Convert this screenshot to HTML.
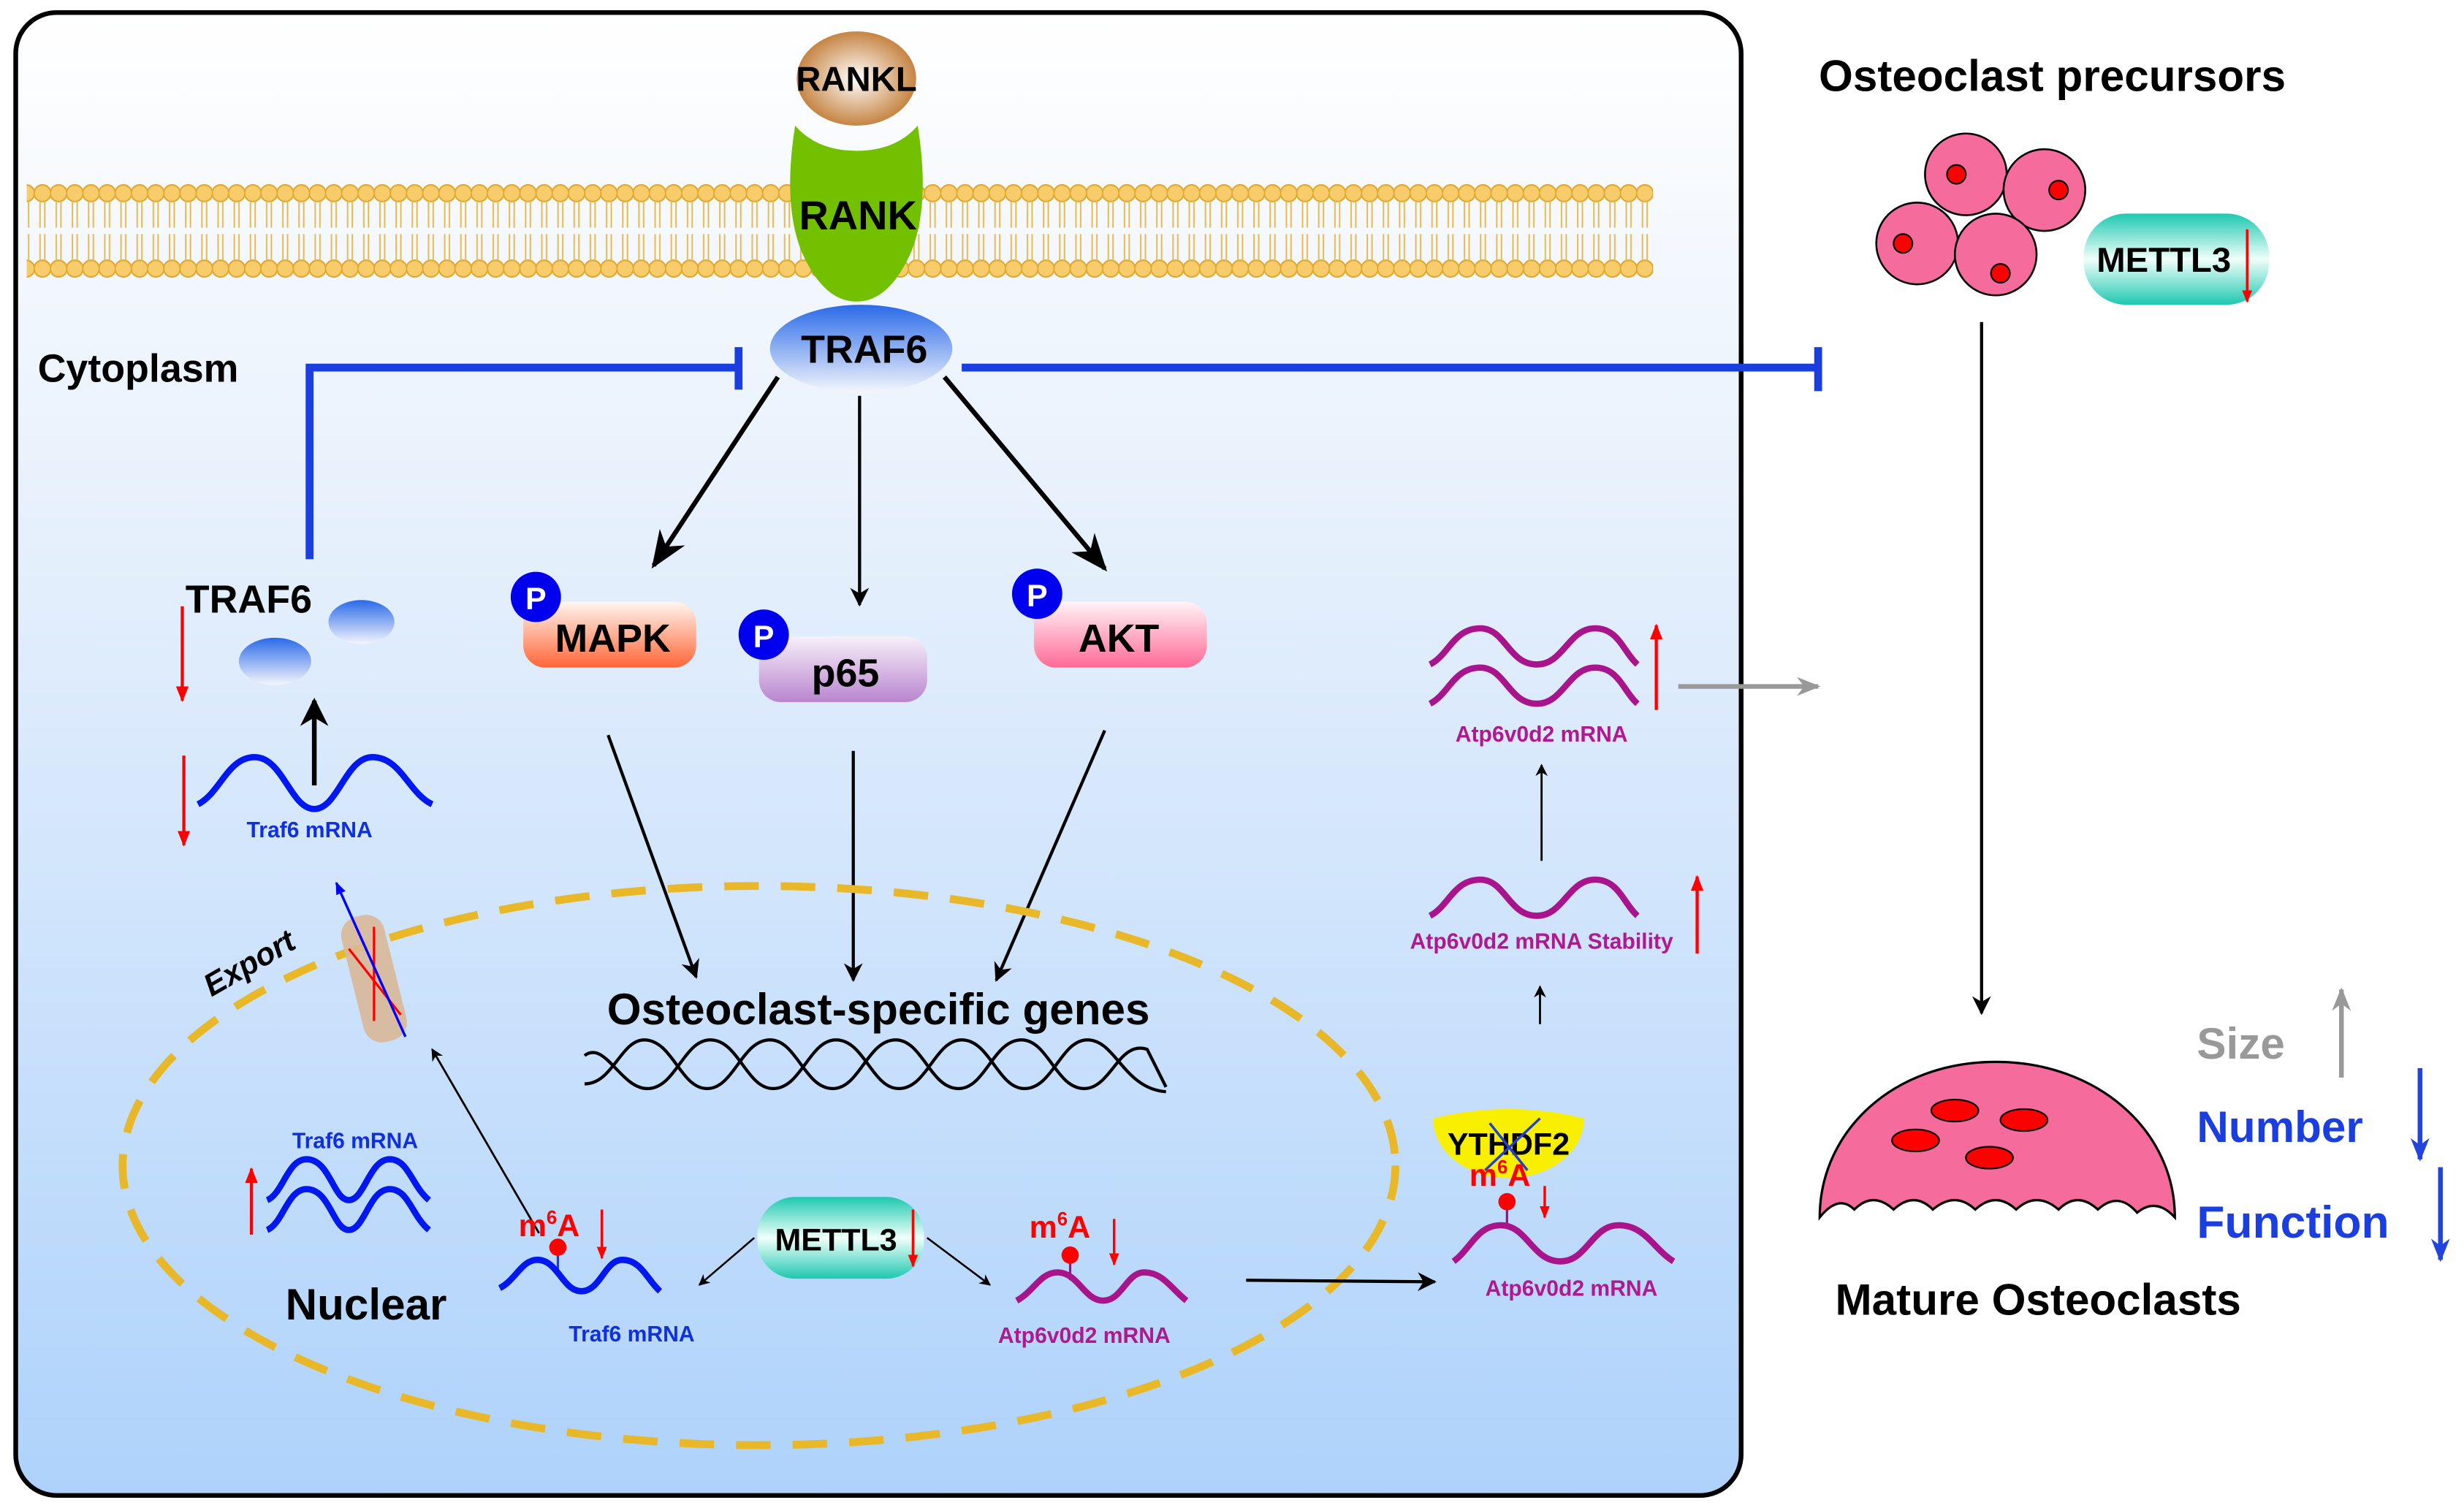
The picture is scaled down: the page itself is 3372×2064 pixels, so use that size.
<!DOCTYPE html>
<html><head><meta charset="utf-8"><style>html,body{margin:0;padding:0;background:#fff}svg{display:block}</style></head>
<body>
<svg width="3372" height="2064" viewBox="0 0 1568 960" preserveAspectRatio="none" xmlns="http://www.w3.org/2000/svg" font-family="Liberation Sans, sans-serif">
<defs>
<linearGradient id="bg" x1="0" y1="0" x2="0" y2="1"><stop offset="0" stop-color="#ffffff"/><stop offset="0.35" stop-color="#e6f0fc"/><stop offset="1" stop-color="#aed2fb"/></linearGradient>
<radialGradient id="rankl" cx="0.5" cy="0.5" r="0.55"><stop offset="0" stop-color="#fff"/><stop offset="1" stop-color="#c07830"/></radialGradient>
<linearGradient id="traf" x1="0" y1="0" x2="0" y2="1"><stop offset="0" stop-color="#2a6ae8"/><stop offset="1" stop-color="#f4f6fc"/></linearGradient>
<linearGradient id="mapk" x1="0" y1="0" x2="0" y2="1"><stop offset="0" stop-color="#fff6f0"/><stop offset="1" stop-color="#ff6636"/></linearGradient>
<linearGradient id="p65" x1="0" y1="0" x2="0" y2="1"><stop offset="0" stop-color="#f8f0fa"/><stop offset="1" stop-color="#b985cf"/></linearGradient>
<linearGradient id="akt" x1="0" y1="0" x2="0" y2="1"><stop offset="0" stop-color="#fff4f8"/><stop offset="1" stop-color="#ff6a96"/></linearGradient>
<linearGradient id="met" x1="0" y1="0" x2="0" y2="1"><stop offset="0" stop-color="#1ec8b0"/><stop offset="0.5" stop-color="#f0fffa"/><stop offset="1" stop-color="#1ec8b0"/></linearGradient>
<marker id="ah" viewBox="0 0 10 10" refX="9" refY="5" markerWidth="6" markerHeight="6" orient="auto"><path d="M0,0 L10,5 L0,10 L3,5z" fill="#000"/></marker>
<marker id="ahs" viewBox="0 0 10 10" refX="9" refY="5" markerWidth="8" markerHeight="8" orient="auto"><path d="M0,1 L10,5 L0,9 L3,5z" fill="#000"/></marker>
<marker id="ar" viewBox="0 0 10 10" refX="9" refY="5" markerWidth="5" markerHeight="5" orient="auto"><path d="M0,1 L10,5 L0,9z" fill="#f00"/></marker>
<marker id="ab" viewBox="0 0 10 10" refX="9" refY="5" markerWidth="5" markerHeight="5" orient="auto"><path d="M0,1 L10,5 L0,9z" fill="#00f"/></marker>
<marker id="ag" viewBox="0 0 10 10" refX="9" refY="5" markerWidth="5" markerHeight="5" orient="auto"><path d="M0,1 L10,5 L0,9 L3,5z" fill="#999"/></marker>
<marker id="agb" viewBox="0 0 10 10" refX="9" refY="5" markerWidth="5" markerHeight="5" orient="auto"><path d="M0,1 L10,5 L0,9 L3,5z" fill="#2244dd"/></marker>
<pattern id="mem" x="22" y="0" width="10.3" height="960" patternUnits="userSpaceOnUse">
<circle cx="5" cy="123" r="5.3" fill="#f8cc6a" stroke="#e0a830" stroke-width="1"/>
<circle cx="5" cy="171" r="5.3" fill="#f8cc6a" stroke="#e0a830" stroke-width="1"/>
<path d="M3.5,128 V145 M6.5,128 V145 M3.5,149 V166 M6.5,149 V166" stroke="#e8b848" stroke-width="0.9"/>
</pattern>
</defs>

<rect x="10" y="8" width="1098" height="944" rx="26" fill="url(#bg)" stroke="#000" stroke-width="3"/>
<rect x="17" y="115" width="1035" height="64" fill="url(#mem)"/>

<path d="M506,80 Q520,96 545,96 Q570,96 584,80 Q592,130 580,160 Q566,192 545,192 Q524,192 510,160 Q498,130 506,80z" fill="#72c000"/>
<ellipse cx="545" cy="50" rx="38" ry="30" fill="url(#rankl)"/>
<text x="545" y="58" font-size="22" font-weight="bold" text-anchor="middle">RANKL</text>
<text x="546" y="146" font-size="26" font-weight="bold" text-anchor="middle">RANK</text>
<ellipse cx="548" cy="222" rx="58" ry="28" fill="url(#traf)"/>
<text x="550" y="231" font-size="25" font-weight="bold" text-anchor="middle">TRAF6</text>

<text x="24" y="243" font-size="25" font-weight="bold">Cytoplasm</text>

<path d="M197,356 V234 H470" fill="none" stroke="#1a3ee0" stroke-width="5"/>
<path d="M470,221 V248" stroke="#1a3ee0" stroke-width="5"/>
<path d="M612,234 H1157 M1157,221 V249" fill="none" stroke="#1a3ee0" stroke-width="5"/>

<line x1="495" y1="240" x2="416" y2="360" stroke="#000" stroke-width="3" marker-end="url(#ahs)"/>
<line x1="547" y1="252" x2="547" y2="385" stroke="#000" stroke-width="2" marker-end="url(#ah)"/>
<line x1="601" y1="240" x2="703" y2="362" stroke="#000" stroke-width="3" marker-end="url(#ahs)"/>

<rect x="333" y="383" width="110" height="42" rx="14" fill="url(#mapk)"/>
<text x="390" y="415" font-size="25" font-weight="bold" text-anchor="middle">MAPK</text>
<circle cx="341" cy="380" r="16" fill="#0000ee"/><text x="341" y="388" font-size="20" font-weight="bold" fill="#fff" text-anchor="middle">P</text>
<rect x="483" y="405" width="107" height="42" rx="14" fill="url(#p65)"/>
<text x="538" y="437" font-size="25" font-weight="bold" text-anchor="middle">p65</text>
<circle cx="486" cy="404" r="16" fill="#0000ee"/><text x="486" y="412" font-size="20" font-weight="bold" fill="#fff" text-anchor="middle">P</text>
<rect x="658" y="383" width="110" height="42" rx="14" fill="url(#akt)"/>
<text x="712" y="415" font-size="25" font-weight="bold" text-anchor="middle">AKT</text>
<circle cx="660" cy="378" r="16" fill="#0000ee"/><text x="660" y="386" font-size="20" font-weight="bold" fill="#fff" text-anchor="middle">P</text>

<text x="118" y="390" font-size="25" font-weight="bold">TRAF6</text>
<ellipse cx="230" cy="396" rx="21" ry="14" fill="url(#traf)"/>
<ellipse cx="175" cy="421" rx="23" ry="15" fill="url(#traf)"/>
<line x1="116" y1="386" x2="116" y2="446" stroke="#f00" stroke-width="2" marker-end="url(#ar)"/>
<path d="M126,512 C140,505 145,482 162,482 C180,482 185,515 200,515 C215,515 220,482 237,482 C255,482 260,505 275,512" fill="none" stroke="#0018f0" stroke-width="4"/>
<line x1="200" y1="500" x2="200" y2="446" stroke="#000" stroke-width="3" marker-end="url(#ah)"/>
<line x1="117" y1="481" x2="117" y2="538" stroke="#f00" stroke-width="2" marker-end="url(#ar)"/>
<text x="197" y="533" font-size="14" font-weight="bold" fill="#1030e0" text-anchor="middle">Traf6 mRNA</text>

<line x1="387" y1="468" x2="443" y2="622" stroke="#000" stroke-width="2" marker-end="url(#ah)"/>
<line x1="543" y1="478" x2="543" y2="624" stroke="#000" stroke-width="2" marker-end="url(#ah)"/>
<line x1="703" y1="465" x2="634" y2="624" stroke="#000" stroke-width="2" marker-end="url(#ah)"/>

<ellipse cx="483" cy="742" rx="405" ry="178" fill="none" stroke="#e8b828" stroke-width="5" stroke-dasharray="22 14"/>
<text x="559" y="652" font-size="28" font-weight="bold" text-anchor="middle">Osteoclast-specific genes</text>
<path d="M372,690 C390,690 395,662 410,662 C428,662 433,693 450,693 C467,693 472,662 490,662 C507,662 512,693 530,693 C547,693 552,662 570,662 C587,662 592,693 610,693 C627,693 632,662 650,662 C667,662 672,693 690,693 C707,693 712,662 730,668 L742,692" fill="none" stroke="#000" stroke-width="2"/>
<path d="M372,672 C385,662 395,693 412,693 C430,693 435,662 452,662 C470,662 475,693 492,693 C510,693 515,662 532,662 C550,662 555,693 572,693 C590,693 595,662 612,662 C630,662 635,693 652,693 C670,693 675,662 692,662 C710,662 715,693 742,695" fill="none" stroke="#000" stroke-width="2"/>

<rect x="224" y="582" width="28" height="82" rx="12" fill="#d9b898" opacity="0.9" transform="rotate(-14 238 623)"/>
<line x1="222" y1="604" x2="255" y2="646" stroke="#f00" stroke-width="1.5"/>
<line x1="238" y1="590" x2="238" y2="650" stroke="#f00" stroke-width="1.5"/>
<line x1="258" y1="660" x2="214" y2="562" stroke="#00f" stroke-width="1.6" marker-end="url(#ab)"/>
<text x="158" y="620" font-size="20" font-weight="bold" font-style="italic" text-anchor="middle" transform="rotate(-30 158 612)">Export</text>
<line x1="343" y1="785" x2="275" y2="668" stroke="#000" stroke-width="1.3" marker-end="url(#ah)"/>

<text x="226" y="731" font-size="14" font-weight="bold" fill="#1030e0" text-anchor="middle">Traf6 mRNA</text>
<path d="M170,764 C180,760 183,738 195,738 C210,738 212,764 222,764 C232,764 235,738 248,738 C260,738 262,755 273,764" fill="none" stroke="#0018f0" stroke-width="4"/>
<path d="M170,783 C180,779 183,757 195,757 C210,757 212,783 222,783 C232,783 235,757 248,757 C260,757 262,774 273,783" fill="none" stroke="#0018f0" stroke-width="4"/>
<line x1="160" y1="786" x2="160" y2="744" stroke="#f00" stroke-width="2" marker-end="url(#ar)"/>
<text x="233" y="840" font-size="28" font-weight="bold" text-anchor="middle">Nuclear</text>

<text x="330" y="787" font-size="20" font-weight="bold" fill="#f00">m<tspan font-size="12" dy="-8">6</tspan><tspan dy="8">A</tspan></text>
<line x1="383" y1="770" x2="383" y2="801" stroke="#f00" stroke-width="1.6" marker-end="url(#ar)"/>
<line x1="355" y1="795" x2="355" y2="810" stroke="#2040c0" stroke-width="1.5"/>
<circle cx="355" cy="794" r="5.5" fill="#f00"/>
<path d="M318,820 C328,815 332,802 342,802 C355,802 358,822 370,822 C382,822 385,802 396,802 C408,802 412,815 420,822" fill="none" stroke="#0018f0" stroke-width="4"/>
<text x="402" y="854" font-size="14" font-weight="bold" fill="#1030e0" text-anchor="middle">Traf6 mRNA</text>

<rect x="482" y="762" width="106" height="52" rx="24" fill="url(#met)"/>
<text x="532" y="796" font-size="20" font-weight="bold" text-anchor="middle">METTL3</text>
<line x1="581" y1="770" x2="581" y2="806" stroke="#f00" stroke-width="1.6" marker-end="url(#ar)"/>
<line x1="480" y1="788" x2="445" y2="818" stroke="#000" stroke-width="1.2" marker-end="url(#ah)"/>
<line x1="590" y1="788" x2="630" y2="818" stroke="#000" stroke-width="1.2" marker-end="url(#ah)"/>

<text x="655" y="788" font-size="20" font-weight="bold" fill="#f00">m<tspan font-size="12" dy="-8">6</tspan><tspan dy="8">A</tspan></text>
<line x1="709" y1="776" x2="709" y2="805" stroke="#f00" stroke-width="1.6" marker-end="url(#ar)"/>
<line x1="681" y1="800" x2="681" y2="815" stroke="#a01080" stroke-width="1.5"/>
<circle cx="681" cy="799" r="5.5" fill="#f00"/>
<path d="M647,828 C658,822 662,810 673,810 C686,810 690,828 702,828 C714,828 717,810 728,810 C740,810 745,820 755,828" fill="none" stroke="#a8148c" stroke-width="4"/>
<text x="690" y="855" font-size="14" font-weight="bold" fill="#b01890" text-anchor="middle">Atp6v0d2 mRNA</text>
<line x1="793" y1="815" x2="913" y2="816" stroke="#000" stroke-width="2" marker-end="url(#ah)"/>

<path d="M912,712 Q960,700 1008,712 A48,38 0 0 1 912,712z" fill="#f8f000"/>
<text x="960" y="735" font-size="20" font-weight="bold" text-anchor="middle">YTHDF2</text>
<line x1="945" y1="745" x2="980" y2="712" stroke="#2040d0" stroke-width="1.6"/>
<line x1="948" y1="715" x2="972" y2="745" stroke="#2040d0" stroke-width="1.6"/>
<text x="935" y="755" font-size="20" font-weight="bold" fill="#f00">m<tspan font-size="12" dy="-8">6</tspan><tspan dy="8">A</tspan></text>
<line x1="983" y1="755" x2="983" y2="775" stroke="#f00" stroke-width="1.6" marker-end="url(#ar)"/>
<line x1="959" y1="767" x2="959" y2="782" stroke="#a01080" stroke-width="1.5"/>
<circle cx="959" cy="765" r="5.5" fill="#f00"/>
<path d="M925,803 C936,795 940,780 955,780 C972,780 975,803 993,803 C1010,803 1013,780 1030,780 C1047,780 1052,795 1065,803" fill="none" stroke="#a8148c" stroke-width="4"/>
<text x="1000" y="825" font-size="14" font-weight="bold" fill="#b01890" text-anchor="middle">Atp6v0d2 mRNA</text>

<line x1="980" y1="652" x2="980" y2="628" stroke="#000" stroke-width="1.3" marker-end="url(#ah)"/>
<line x1="981" y1="548" x2="981" y2="487" stroke="#000" stroke-width="1.3" marker-end="url(#ah)"/>
<path d="M910,583 C922,577 925,560 942,560 C958,560 960,583 978,583 C995,583 998,560 1015,560 C1030,560 1033,575 1042,583" fill="none" stroke="#a8148c" stroke-width="4"/>
<text x="981" y="604" font-size="14" font-weight="bold" fill="#b01890" text-anchor="middle">Atp6v0d2 mRNA Stability</text>
<line x1="1080" y1="607" x2="1080" y2="558" stroke="#f00" stroke-width="2" marker-end="url(#ar)"/>
<path d="M910,423 C922,417 925,400 942,400 C958,400 960,423 978,423 C995,423 998,400 1015,400 C1030,400 1033,415 1042,423" fill="none" stroke="#a8148c" stroke-width="4"/>
<path d="M910,448 C922,442 925,425 942,425 C958,425 960,448 978,448 C995,448 998,425 1015,425 C1030,425 1033,440 1042,448" fill="none" stroke="#a8148c" stroke-width="4"/>
<text x="981" y="472" font-size="14" font-weight="bold" fill="#b01890" text-anchor="middle">Atp6v0d2 mRNA</text>
<line x1="1054" y1="452" x2="1054" y2="398" stroke="#f00" stroke-width="2" marker-end="url(#ar)"/>
<line x1="1068" y1="437" x2="1157" y2="437" stroke="#999" stroke-width="3" marker-end="url(#ag)"/>

<text x="1306" y="58" font-size="28" font-weight="bold" text-anchor="middle">Osteoclast precursors</text>
<g fill="#f46b9c" stroke="#000" stroke-width="1.2">
<circle cx="1251" cy="111" r="26"/><circle cx="1301" cy="121" r="26"/><circle cx="1220" cy="155" r="26"/><circle cx="1270" cy="162" r="26"/>
</g>
<g fill="#f00" stroke="#000" stroke-width="1">
<circle cx="1245" cy="111" r="6"/><circle cx="1310" cy="121" r="6"/><circle cx="1211" cy="155" r="6"/><circle cx="1273" cy="174" r="6"/>
</g>
<rect x="1326" y="136" width="118" height="58" rx="27" fill="url(#met)"/>
<text x="1377" y="173" font-size="22" font-weight="bold" text-anchor="middle">METTL3</text>
<line x1="1430" y1="146" x2="1430" y2="192" stroke="#f00" stroke-width="1.6" marker-end="url(#ar)"/>
<line x1="1261" y1="205" x2="1261" y2="645" stroke="#000" stroke-width="2" marker-end="url(#ah)"/>

<path d="M1158,775 C1158,720 1205,676 1270,676 C1335,676 1384,720 1384,775 Q1372,762 1360,772 Q1348,758 1335,770 Q1322,758 1310,770 Q1296,758 1283,770 Q1270,758 1257,770 Q1244,758 1230,770 Q1218,758 1205,770 Q1192,758 1180,770 Q1170,760 1158,775z" fill="#f46b9c" stroke="#000" stroke-width="1.5"/>
<g fill="#f00" stroke="#000" stroke-width="1">
<ellipse cx="1244" cy="707" rx="15" ry="7"/><ellipse cx="1288" cy="713" rx="15" ry="7"/><ellipse cx="1219" cy="726" rx="15" ry="7"/><ellipse cx="1266" cy="737" rx="15" ry="7"/>
</g>
<text x="1297" y="837" font-size="28" font-weight="bold" text-anchor="middle">Mature Osteoclasts</text>
<text x="1398" y="674" font-size="28" font-weight="bold" fill="#999">Size</text>
<line x1="1490" y1="686" x2="1490" y2="630" stroke="#999" stroke-width="3" marker-end="url(#ag)"/>
<text x="1398" y="727" font-size="28" font-weight="bold" fill="#1a3ee0">Number</text>
<line x1="1540" y1="680" x2="1540" y2="738" stroke="#2244dd" stroke-width="3" marker-end="url(#agb)"/>
<text x="1398" y="788" font-size="29" font-weight="bold" fill="#1a3ee0">Function</text>
<line x1="1553" y1="743" x2="1553" y2="802" stroke="#2244dd" stroke-width="3" marker-end="url(#agb)"/>
</svg>
</body></html>
